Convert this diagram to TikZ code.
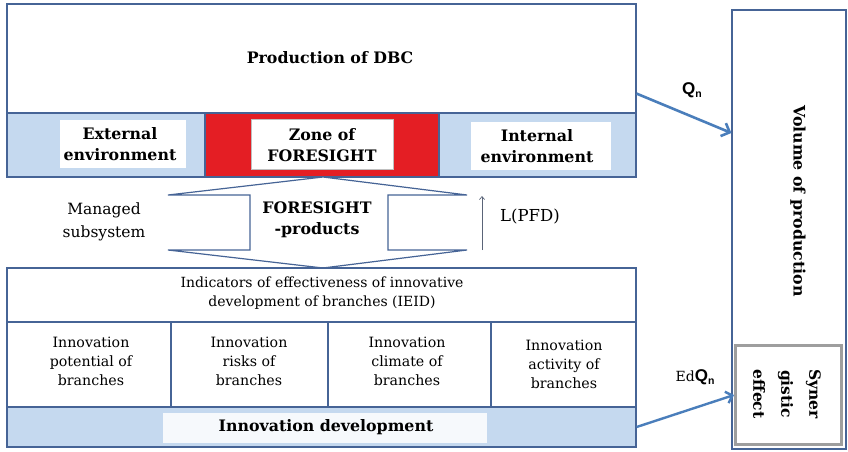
\documentclass[tikz,border=0pt]{standalone}
\usepackage{fontspec}
\setmainfont{DejaVu Serif}
\newfontfamily\qfont{Liberation Sans}
\usetikzlibrary{arrows.meta,shapes.misc}
\definecolor{lineblue}{RGB}{70,100,150}
\definecolor{lightblue}{RGB}{197,217,239}
\definecolor{zonered}{RGB}{228,30,36}
\definecolor{arrowblue}{RGB}{74,126,187}
\definecolor{cellline}{RGB}{90,100,120}
\begin{document}
\begin{tikzpicture}[x=1pt,y=-1pt,
  box/.style={draw=lineblue, line width=1.2pt, inner sep=0pt, rectangle},
  bandbox/.style={box, fill=lightblue},
  whitelabel/.style={fill=white, inner sep=0pt, rectangle},
  boldtxt/.style={font=\fontsize{15.8}{21.5}\selectfont\bfseries, align=center, inner sep=0pt},
  normtxt/.style={font=\fontsize{14}{19}\selectfont, align=center, inner sep=0pt},
  celltxt/.style={font=\fontsize{14.2}{19}\selectfont, align=center, inner sep=0pt},
  bluearrow/.style={draw=arrowblue, line width=2.6pt, -{Straight Barb[length=7pt,width=14pt]}},
]
\useasboundingbox (0,0) rectangle (848,451);
% top block
\node[box, fill=white, minimum width=629pt, minimum height=109pt] (dbc) at (321.5,58.5) {};
\node[boldtxt] (dbct) at (330,58) {Production of DBC};
\node[bandbox, minimum width=198pt, minimum height=64pt] (ext) at (106,145) {};
\node[box, fill=zonered, minimum width=234pt, minimum height=64pt] (zone) at (322,145) {};
\node[bandbox, minimum width=197pt, minimum height=64pt] (int) at (537.5,145) {};
\node[whitelabel, minimum width=126pt, minimum height=48pt] (extw) at (123,144) {};
\node[whitelabel, minimum width=140pt, minimum height=48pt] (intw) at (541,146) {};
\node[chamfered rectangle, chamfered rectangle xsep=4pt, fill=white, draw=black!25, line width=0.8pt,
      minimum width=142pt, minimum height=50pt, inner sep=0pt] (zonew) at (322,144.5) {};
\node[boldtxt] (extt) at (120,144) {External\\environment};
\node[boldtxt] (zonet) at (322,145) {Zone of\\FORESIGHT};
\node[boldtxt] (intt) at (537,146) {Internal\\environment};
% double arrow
\draw[draw=lineblue, line width=1.2pt, fill=white]
  (323,177) -- (467,195) -- (388,195) -- (388,250) -- (467,250) -- (323,268)
  -- (168,250) -- (250,250) -- (250,195) -- (168,195) -- cycle;
\node[boldtxt] (fp) at (317,220) {FORESIGHT\\-products};
\node[font=\fontsize{15.5}{23}\selectfont, align=center, inner sep=0pt] (ms) at (104,222) {Managed\\subsystem};
\coordinate (pfdlow) at (482,250);
\coordinate (pfdhigh) at (482,196);
\draw[draw=cellline, line width=0.7pt, -{Straight Barb[length=3pt,width=5pt]}] (pfdlow) -- (pfdhigh);
\node[font=\fontsize{16.5}{19}\selectfont, inner sep=0pt] (pfd) at (530,217) {L(PFD)};
% bottom block
\node[box, fill=white, minimum width=629pt, minimum height=54pt] (ind) at (321.5,295) {};
\node[normtxt] (indt) at (322,293) {Indicators of effectiveness of innovative\\development of branches (IEID)};
\node[box, fill=white, minimum width=164pt, minimum height=85pt] (c1) at (89,364.5) {};
\node[box, fill=white, minimum width=157pt, minimum height=85pt] (c2) at (249.5,364.5) {};
\node[box, fill=white, minimum width=163pt, minimum height=85pt] (c3) at (409.5,364.5) {};
\node[box, fill=white, minimum width=145pt, minimum height=85pt] (c4) at (563.5,364.5) {};
\node[celltxt] (c1t) at (91,361) {Innovation\\potential of\\branches};
\node[celltxt] (c2t) at (249,361) {Innovation\\risks of\\branches};
\node[celltxt] (c3t) at (407,361) {Innovation\\climate of\\branches};
\node[celltxt] (c4t) at (564,364) {Innovation\\activity of\\branches};
\node[bandbox, minimum width=629pt, minimum height=40pt] (dev) at (321.5,427) {};
\node[whitelabel, fill opacity=0.85, minimum width=324pt, minimum height=30pt] (devw) at (325,428) {};
\node[boldtxt] (devt) at (326,427) {Innovation development};
% right column
\node[box, fill=white, minimum width=114pt, minimum height=439pt] (vol) at (789,229.5) {};
\node[boldtxt, rotate=-90] (volt) at (798,201) {Volume of production};
\node[rectangle, draw=black!38, line width=3pt, fill=white, inner sep=0pt,
      minimum width=106pt, minimum height=99pt] (syn) at (788.5,395) {};
\node[font=\fontsize{15.5}{28}\selectfont\bfseries, align=center, inner sep=0pt, rotate=-90] (synt) at (787,394) {Syner\\gistic\\effect};
% connectors
\draw[bluearrow] ([yshift=20pt]dbc.south east) -- ([yshift=96.5pt]vol.west);
\node[inner sep=0pt] (qn) at (692,90) {\qfont\fontsize{17}{18}\selectfont\bfseries Q\raisebox{-3pt}{\fontsize{10.5}{12}\selectfont n}};
\draw[draw=arrowblue, line width=2.4pt, -{Straight Barb[length=6pt,width=12pt]}] (dev.east) -- (syn.west);
\node[inner sep=0pt] (edqn) at (695,377) {\fontsize{14}{15}\selectfont Ed{\qfont\fontsize{17}{18}\selectfont\bfseries Q\raisebox{-3pt}{\fontsize{10.5}{12}\selectfont n}}};
\end{tikzpicture}
\end{document}
